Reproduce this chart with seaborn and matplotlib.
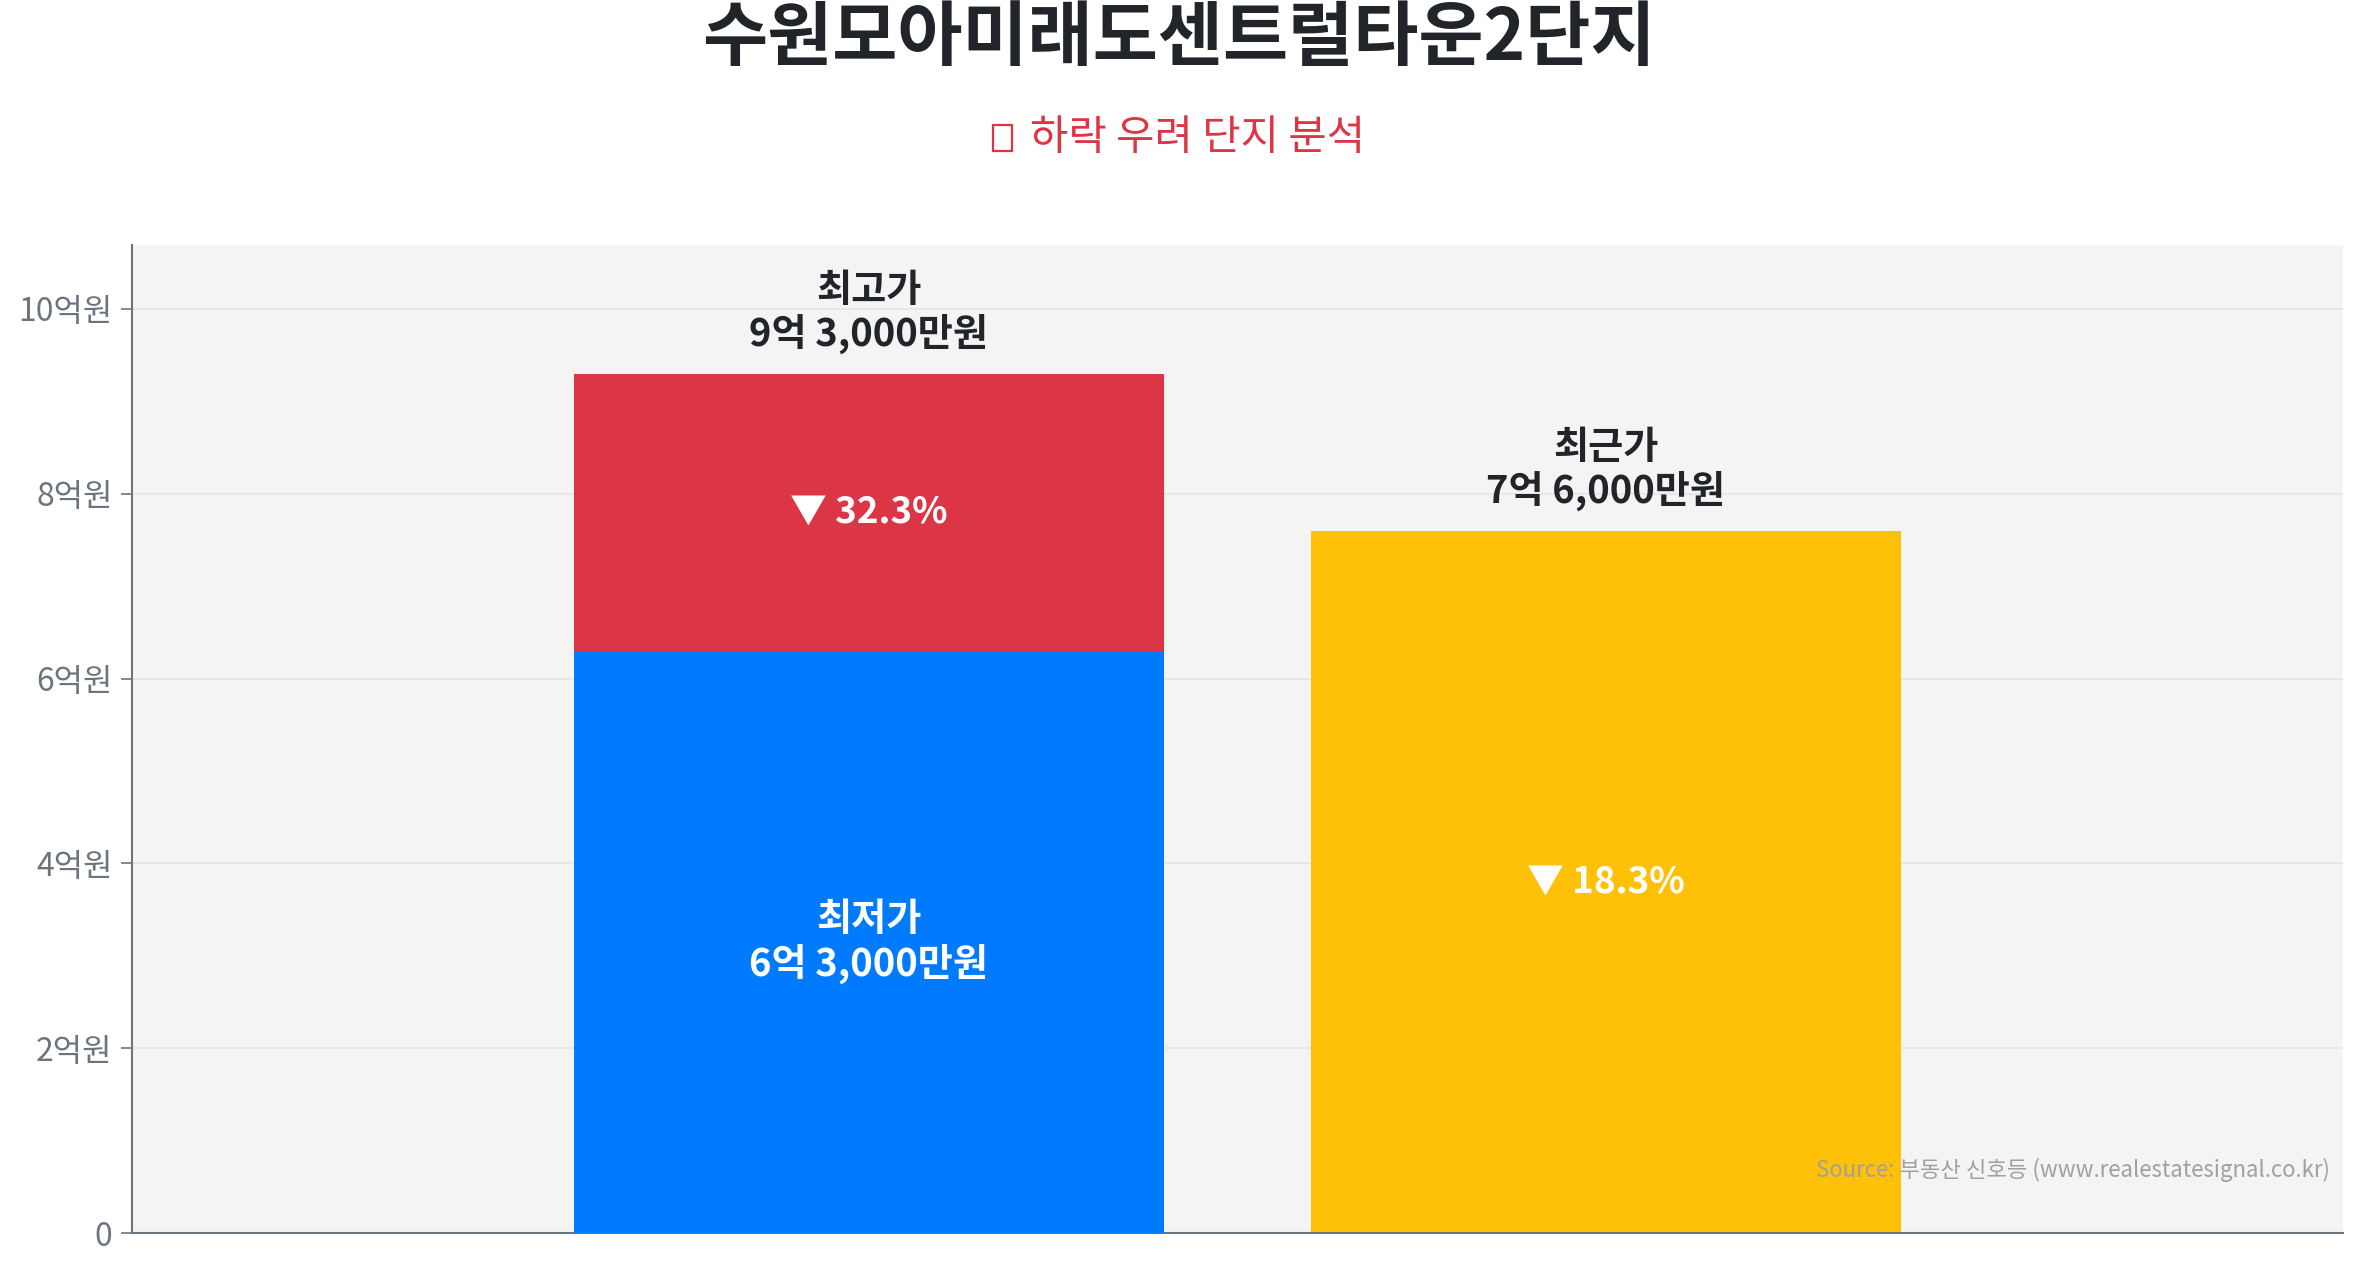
import matplotlib
matplotlib.use("Agg")
import matplotlib.pyplot as plt
import matplotlib.patches as mpatches
import seaborn as sns
import pandas as pd

# ---- data ----
groups = ["최고·최저", "최근"]
high_price = 9.3      # 억원
low_price = 6.3       # 억원
recent_price = 7.6    # 억원
drop_high_low = 32.3  # %
drop_high_recent = 18.3  # %
high_label = "최고가\n9억 3,000만원"
low_label = "최저가\n6억 3,000만원"
recent_label = "최근가\n7억 6,000만원"
ytick_vals = [0, 2, 4, 6, 8, 10]
ytick_labels = ["0", "2억원", "4억원", "6억원", "8억원", "10억원"]
title = "수원모아미래도센트럴타운2단지"
subtitle = "하락 우려 단지 분석"   # preceded by an emoji no installed font has (drawn as a box)
source = "Source: 부동산 신호등 (www.realestatesignal.co.kr)"

RED = "#dc3545"
BLUE = "#007bff"
YELLOW = "#ffc107"
DARK = "#212529"
GRAY = "#6c757d"

sns.set_style("white")
plt.rcParams["font.family"] = ["Noto Sans CJK KR", "DejaVu Sans"]

fig = plt.figure(figsize=(23.57, 12.68), dpi=100)
ax = fig.add_axes([0.056, 0.0276, 0.994 - 0.056, 0.807 - 0.0276])
ax.set_facecolor("#f4f4f4")

top_df = pd.DataFrame({"group": groups, "value": [high_price, recent_price]})
sns.barplot(data=top_df, x="group", y="value", hue="group", order=groups,
            palette=[RED, YELLOW], saturation=1, width=0.8, linewidth=0,
            legend=False, ax=ax, zorder=2)
low_df = pd.DataFrame({"group": [groups[0]], "value": [low_price]})
sns.barplot(data=low_df, x="group", y="value", color=BLUE, saturation=1,
            width=0.8, linewidth=0, ax=ax, zorder=3)

ax.set_xlim(-1, 2)
ax.set_ylim(0, high_price * 1.15)
ax.set_yticks(ytick_vals)
ax.set_yticklabels(ytick_labels)
ax.set_xticks([])
ax.set_xlabel("")
ax.set_ylabel("")
ax.tick_params(axis="y", colors=GRAY, labelsize=23, length=8, width=1.2, pad=6, left=True)
ax.yaxis.grid(True, color="#e6e6e6", linewidth=1.3, zorder=0)
ax.set_axisbelow(True)
for s in ["top", "right"]:
    ax.spines[s].set_visible(False)
for s in ["left", "bottom"]:
    ax.spines[s].set_color(GRAY)
    ax.spines[s].set_linewidth(1.5)

lab_kw = dict(ha="center", fontsize=27.5, fontweight="bold", linespacing=1.12, zorder=5)
pct_kw = dict(ha="center", fontsize=26.5, fontweight="bold", zorder=5)
ax.annotate(high_label, (0, high_price), xytext=(0, 14), textcoords="offset points",
            va="bottom", color=DARK, **lab_kw)
ax.annotate(recent_label, (1, recent_price), xytext=(0, 14), textcoords="offset points",
            va="bottom", color=DARK, **lab_kw)
ax.text(0, low_price / 2, low_label, va="center", color="white", **lab_kw)
ax.text(0, (low_price + high_price) / 2, f"▼ {drop_high_low}%", va="center",
        color="white", **pct_kw)
ax.text(1, recent_price / 2, f"▼ {drop_high_recent}%", va="center",
        color="white", **pct_kw)

ax.text(0.994, 0.064, source, transform=ax.transAxes, ha="right", va="center",
        fontsize=16, color="#a0a0a0", zorder=6)

fig.text(0.5, 0.969, title, ha="center", va="center", fontsize=51,
         fontweight="bold", color=DARK)
fig.text(0.508, 0.891, subtitle, ha="center", va="center", fontsize=30, color=RED)
# missing-glyph box drawn where the emoji sits in the reference
fig.patches.append(mpatches.Rectangle((993 / 2357, 1 - 151 / 1268), 19 / 2357, 26 / 1268,
                                      transform=fig.transFigure, fill=False,
                                      edgecolor=RED, linewidth=1.6, figure=fig))

fig.savefig("out.png", dpi=100)
